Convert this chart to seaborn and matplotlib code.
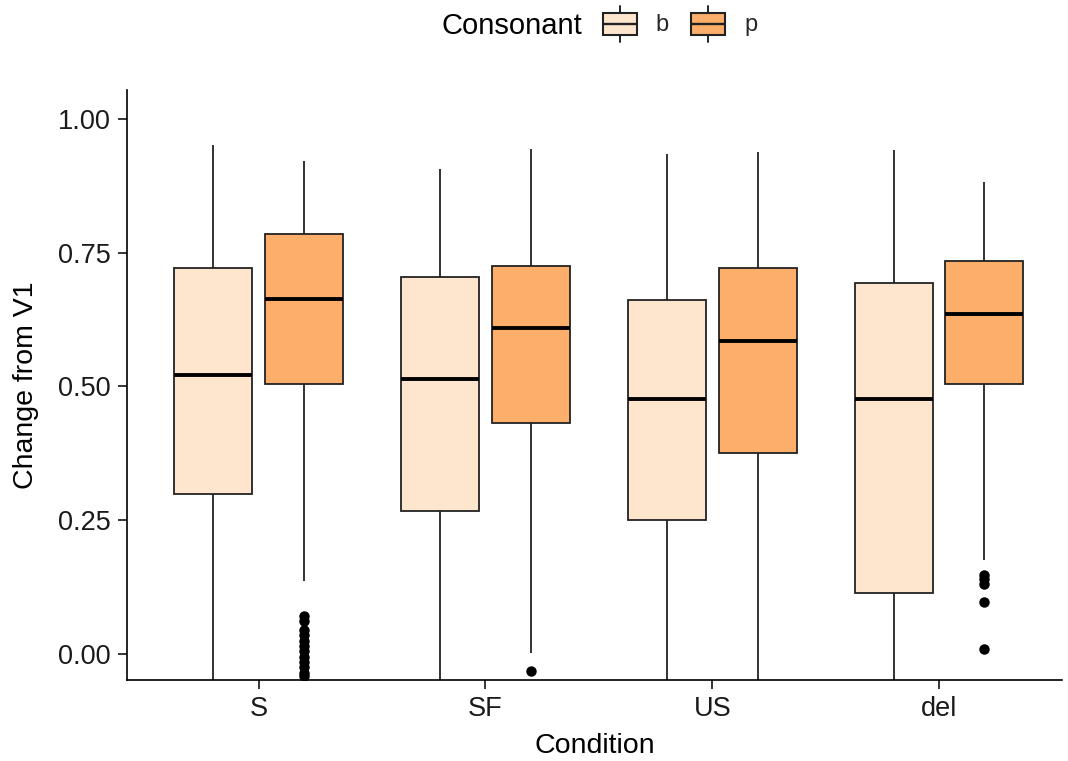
import numpy as np
import pandas as pd
import matplotlib
matplotlib.use("Agg")
import matplotlib.pyplot as plt
import seaborn as sns
from matplotlib.legend_handler import HandlerBase
from matplotlib.patches import Rectangle, Patch
from matplotlib.lines import Line2D

# ---- data ----
conditions = ["S", "SF", "US", "del"]
consonants = ["b", "p"]
colors = {"b": "#FEE6CE", "p": "#FDAE6B"}

# five-number summaries per (condition, consonant): whisker low, q1, median, q3, whisker high
whisk_lo = {("S", "b"): -0.10, ("S", "p"): 0.137, ("SF", "b"): -0.10, ("SF", "p"): 0.002,
            ("US", "b"): -0.10, ("US", "p"): -0.08, ("del", "b"): -0.10, ("del", "p"): 0.176}
q1 = {("S", "b"): 0.299, ("S", "p"): 0.505, ("SF", "b"): 0.268, ("SF", "p"): 0.432,
      ("US", "b"): 0.250, ("US", "p"): 0.376, ("del", "b"): 0.114, ("del", "p"): 0.505}
median = {("S", "b"): 0.521, ("S", "p"): 0.664, ("SF", "b"): 0.514, ("SF", "p"): 0.609,
          ("US", "b"): 0.476, ("US", "p"): 0.584, ("del", "b"): 0.476, ("del", "p"): 0.636}
q3 = {("S", "b"): 0.722, ("S", "p"): 0.785, ("SF", "b"): 0.704, ("SF", "p"): 0.724,
      ("US", "b"): 0.662, ("US", "p"): 0.722, ("del", "b"): 0.694, ("del", "p"): 0.735}
whisk_hi = {("S", "b"): 0.950, ("S", "p"): 0.921, ("SF", "b"): 0.907, ("SF", "p"): 0.943,
            ("US", "b"): 0.935, ("US", "p"): 0.938, ("del", "b"): 0.942, ("del", "p"): 0.882}
outliers = {("S", "p"): [0.072, 0.062, 0.045, 0.035, 0.025, 0.015, 0.005, -0.005,
                         -0.015, -0.025, -0.035, -0.040],
            ("SF", "p"): [-0.032],
            ("del", "p"): [0.148, 0.140, 0.130, 0.098, 0.010]}

# ---- build observations that reproduce each summary exactly ----
rows = []
for c in conditions:
    for k in consonants:
        key = (c, k)
        outs = sorted(outliers.get(key, []))
        m = len(outs) + 1
        vals = list(outs)
        vals += [whisk_lo[key]] * (m - len(outs))
        vals += [q1[key]] * m
        vals += [median[key]] * m
        vals += [q3[key]] * m
        vals += [whisk_hi[key]]
        for v in vals:
            rows.append({"Condition": c, "Consonant": k, "Change": v})
df = pd.DataFrame(rows)

# ---- plot ----
sns.set_theme(style="ticks")
plt.rcParams["font.family"] = ["Liberation Sans", "DejaVu Sans"]

fig = plt.figure(figsize=(10.68, 7.61), dpi=100)
ax = fig.add_axes([0.119, 0.106, 0.875, 0.776])

edge = "#222222"
sns.boxplot(data=df, x="Condition", y="Change", hue="Consonant",
            order=conditions, hue_order=consonants, palette=colors,
            saturation=1, width=0.8, gap=0.14, linewidth=1.3, linecolor=edge,
            showcaps=False, fliersize=6.5,
            flierprops=dict(marker="o", markerfacecolor="black",
                            markeredgecolor="black"),
            medianprops=dict(color="black", linewidth=2.8),
            whis=1.5, legend=False, ax=ax)

ax.set_ylim(-0.049, 1.054)
ax.set_xlim(-0.58, 3.54)
ax.set_yticks([0, 0.25, 0.5, 0.75, 1.0])
ax.set_yticklabels(["0.00", "0.25", "0.50", "0.75", "1.00"])
ax.set_xlabel("Condition", fontsize=20.5, color="black")
ax.set_ylabel("Change from V1", fontsize=20.5, color="black")
ax.xaxis.set_label_coords(0.5, -0.112)
ax.xaxis.label.set_va("center")
ax.yaxis.set_label_coords(-0.108, 0.5)
ax.yaxis.label.set_va("center")
ax.tick_params(axis="both", labelsize=19.5, length=6.5, width=1.1,
               direction="out", pad=5, colors="black", labelcolor="#1a1a1a")
for s in ["top", "right"]:
    ax.spines[s].set_visible(False)
for s in ["left", "bottom"]:
    ax.spines[s].set_linewidth(1.2)
    ax.spines[s].set_color("black")


# ---- legend with box glyphs ----
class BoxHandler(HandlerBase):
    def create_artists(self, legend, orig_handle, xdescent, ydescent,
                       width, height, fontsize, trans):
        x0, y0 = -xdescent, -ydescent
        bh = height * 0.6
        by = y0 + (height - bh) / 2
        cx = x0 + width / 2
        cy = y0 + height / 2
        rect = Rectangle((x0, by), width, bh, facecolor=orig_handle.get_facecolor(),
                         edgecolor=edge, linewidth=1.5, transform=trans)
        med = Line2D([x0, x0 + width], [cy, cy], color=edge, linewidth=1.7, transform=trans)
        w1 = Line2D([cx, cx], [y0, by], color=edge, linewidth=1.4, transform=trans)
        w2 = Line2D([cx, cx], [by + bh, y0 + height], color=edge, linewidth=1.4, transform=trans)
        return [w1, w2, rect, med]


handles = [Patch(facecolor=colors[k], edgecolor=edge) for k in consonants]
fig.text(0.545, 0.966, "Consonant", fontsize=21, ha="right", va="center", color="black")
leg = fig.legend(handles, consonants, loc="center left", bbox_to_anchor=(0.5646, 0.9685),
                 ncol=2, frameon=False, fontsize=17, handlelength=1.44, handleheight=2.0,
                 handletextpad=0.8, columnspacing=0.95, borderaxespad=0, borderpad=0,
                 handler_map={Patch: BoxHandler()})

fig.savefig("out.png", dpi=100)
